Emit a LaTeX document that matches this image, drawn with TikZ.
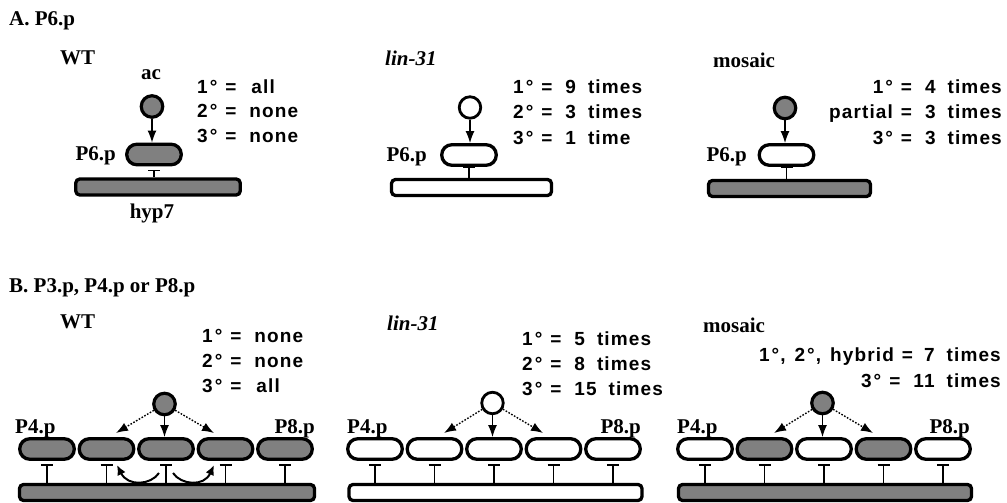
\documentclass[tikz,border=0pt]{standalone}
\usepackage{fontspec}
\setmainfont{Liberation Serif}
\newfontfamily\hv[LetterSpace=6]{Liberation Sans}
\usetikzlibrary{arrows.meta}
\definecolor{shade}{gray}{0.5}
\newcommand\eqs{\hspace{8pt}=\hspace{13pt}}
\newcommand\dg{\hspace{2pt}°}
\newcommand\tms{\hspace{12pt}times}
\begin{document}
\begin{tikzpicture}[x=1pt,y=-1pt,
  lab/.style={font=\fontsize{21}{24}\selectfont\bfseries, inner sep=0},
  labi/.style={font=\fontsize{21}{24}\selectfont\bfseries\itshape, inner sep=0},
  txt/.style={font=\hv\bfseries\fontsize{19}{22}\selectfont, inner sep=0},
  cell/.style={draw, line width=3.3pt, rounded corners=10pt, minimum width=54.5pt, minimum height=20.5pt, inner sep=0},
  cellc/.style={circle, draw, line width=3.2pt, minimum size=21.5pt, inner sep=0},
  hyp/.style={draw, line width=3.3pt, rounded corners=4pt, inner sep=0, minimum height=16pt},
  arr/.style={line width=1.4pt, -{Latex[length=12pt,width=9pt]}},
  dotarr/.style={arr, dash pattern=on 1.6pt off 1.6pt},
  tbar/.style={line width=1.3pt},
  curv/.style={line width=2pt, -{Latex[length=10pt,width=9pt]}}]
\path[use as bounding box] (0,0) rectangle (1007,503);

% ---------------- Panel A ----------------
\node[lab, anchor=base west] (titA) at (9,26) {A. P6.p};

% WT
\node[lab, anchor=base west] (wtA) at (60,65) {WT};
\node[lab, anchor=base] (ac) at (151,80) {ac};
\node[cellc, fill=shade] (cA1) at (152,106.5) {};
\node[cell, fill=shade] (bA1) at (154,154.5) {};
\node[hyp, fill=shade, minimum width=164.5pt] (hA1) at (158,187) {};
\node[lab, anchor=base east] (pA1) at (116,160) {P6.p};
\node[lab, anchor=base] (hyp7) at (152,218) {hyp7};
\draw[arr] (cA1.south) -- (cA1.south |- bA1.north);
\draw[tbar] (bA1.south |- hA1.north) -- ++(0,-7) ++(-6,0) -- ++(12,0);
\node[txt, anchor=base west] (tA11) at (197,93) {1\dg\eqs\hspace{2pt}all};
\node[txt, anchor=base west] (tA12) at (197,117.5) {2\dg\eqs none};
\node[txt, anchor=base west] (tA13) at (197,142.5) {3\dg\eqs none};

% lin-31
\node[labi, anchor=base west] (linA) at (385,66) {lin-31};
\node[cellc, fill=white, line width=2.8pt] (cA2) at (470,107.5) {};
\node[cell, fill=white] (bA2) at (469,155) {};
\node[hyp, fill=white, minimum width=160pt] (hA2) at (471.5,187.5) {};
\node[lab, anchor=base east] (pA2) at (427,161) {P6.p};
\draw[arr] (cA2.south) -- (cA2.south |- bA2.north);
\draw[tbar] (bA2.south |- hA2.north) -- (bA2.south) ++(-6,0) -- ++(12,0);
\node[txt, anchor=base west] (tA21) at (513,93) {1\dg\eqs 9\tms};
\node[txt, anchor=base west] (tA22) at (513,118.5) {2\dg\eqs 3\tms};
\node[txt, anchor=base west] (tA23) at (513,144) {3\dg\eqs 1\hspace{12pt}time};

% mosaic
\node[lab, anchor=base west] (mosA) at (713,67) {mosaic};
\node[cellc, fill=shade] (cA3) at (785,108) {};
\node[cell, fill=white] (bA3) at (786.5,155) {};
\node[hyp, fill=shade, minimum width=162pt] (hA3) at (789.5,188.5) {};
\node[lab, anchor=base east] (pA3) at (747,161) {P6.p};
\draw[arr] (cA3.south) -- (cA3.south |- bA3.north);
\draw[tbar] (bA3.south |- hA3.north) -- (bA3.south) ++(-6,0) -- ++(12,0);
\node[txt, anchor=base east] (tA31) at (1002,93) {1\dg\eqs 4\tms};
\node[txt, anchor=base east] (tA32) at (1002,118.5) {partial\eqs 3\tms};
\node[txt, anchor=base east] (tA33) at (1002,144) {3\dg\eqs 3\tms};

% ---------------- Panel B ----------------
\node[lab, anchor=base west] (titB) at (9,292) {B. P3.p, P4.p or P8.p};
\node[lab, anchor=base west] (wtB) at (60,328) {WT};
\node[labi, anchor=base west] (linB) at (387,330) {lin-31};
\node[lab, anchor=base west] (mosB) at (703,332) {mosaic};

% WT (center 166)
\node[cellc, fill=shade] (cB1) at (164.5,404) {};
\foreach \i/\dx in {1/-119,2/-59.5,3/0,4/59.5,5/119}
  \node[cell, fill=shade] (w\i) at (166+\dx,449) {};
\node[hyp, fill=shade, minimum width=295pt] (hB1) at (167,492.5) {};
\draw[arr] (cB1.south) -- (cB1.south |- w3.north);
\coordinate (wL) at (116,433);
\coordinate (wR) at (214,433);
\draw[dotarr] (cB1) -- (wL);
\draw[dotarr] (cB1) -- (wR);
\foreach \i in {1,...,5}
  \draw[tbar] (w\i.south |- hB1.north) -- ++(0,-18) ++(-6,0) -- ++(12,0);
\coordinate (aLs) at (159,473);
\coordinate (aLe) at (117,465);
\coordinate (aRs) at (173,473);
\coordinate (aRe) at (214,465);
\draw[curv] (aLs) .. controls (151,485) and (128,487) .. (aLe);
\draw[curv] (aRs) .. controls (181,485) and (204,487) .. (aRe);
\node[lab, anchor=base west] (p4w) at (15,433) {P4.p};
\node[lab, anchor=base east] (p8w) at (315,433) {P8.p};
\node[txt, anchor=base west] (tB11) at (202,342) {1\dg\eqs none};
\node[txt, anchor=base west] (tB12) at (202,367) {2\dg\eqs none};
\node[txt, anchor=base west] (tB13) at (202,392) {3\dg\eqs\hspace{2pt}all};

% lin-31 (center 494)
\node[cellc, fill=white, line width=2.8pt] (cB2) at (492.5,403) {};
\foreach \i/\dx in {1/-119,2/-59.5,3/0,4/59.5,5/119}
  \node[cell, fill=white] (l\i) at (494+\dx,449) {};
\node[hyp, fill=white, minimum width=293pt] (hB2) at (495.5,492.5) {};
\draw[arr] (cB2.south) -- (cB2.south |- l3.north);
\coordinate (lL) at (444,433);
\coordinate (lR) at (543,433);
\draw[dotarr] (cB2) -- (lL);
\draw[dotarr] (cB2) -- (lR);
\foreach \i in {1,...,5}
  \draw[tbar] (l\i.south |- hB2.north) -- ++(0,-18) ++(-6,0) -- ++(12,0);
\node[lab, anchor=base west] (p4l) at (347,433) {P4.p};
\node[lab, anchor=base east] (p8l) at (641,433) {P8.p};
\node[txt, anchor=base west] (tB21) at (522,345) {1\dg\eqs 5\tms};
\node[txt, anchor=base west] (tB22) at (522,370) {2\dg\eqs 8\tms};
\node[txt, anchor=base west] (tB23) at (522,395) {3\dg\eqs 15\tms};

% mosaic (center 824)
\node[cellc, fill=shade] (cB3) at (822.5,403) {};
\node[cell, fill=white] (m1) at (705,449) {};
\node[cell, fill=shade] (m2) at (764.5,449) {};
\node[cell, fill=white] (m3) at (824,449) {};
\node[cell, fill=shade] (m4) at (883.5,449) {};
\node[cell, fill=white] (m5) at (943,449) {};
\node[hyp, fill=shade, minimum width=293pt] (hB3) at (825,492.5) {};
\draw[arr] (cB3.south) -- (cB3.south |- m3.north);
\coordinate (mL) at (774,433);
\coordinate (mR) at (873,433);
\draw[dotarr] (cB3) -- (mL);
\draw[dotarr] (cB3) -- (mR);
\foreach \i in {1,...,5}
  \draw[tbar] (m\i.south |- hB3.north) -- ++(0,-18) ++(-6,0) -- ++(12,0);
\node[lab, anchor=base west] (p4m) at (677,433) {P4.p};
\node[lab, anchor=base east] (p8m) at (970,433) {P8.p};
\node[txt, anchor=base east] (tB31) at (1001,361) {1\dg,\hspace{9pt}2\dg,\hspace{9pt}hybrid\hspace{8pt}=\hspace{11pt}7\tms};
\node[txt, anchor=base east] (tB32) at (1001,387) {3\dg\eqs 11\tms};
\end{tikzpicture}
\end{document}
